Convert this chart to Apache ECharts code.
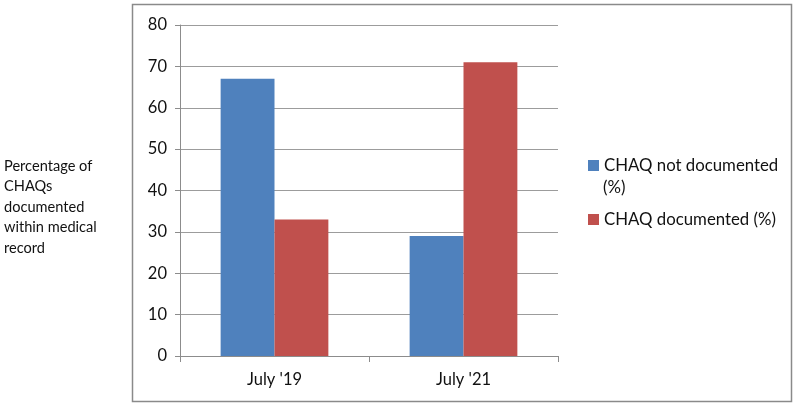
<!DOCTYPE html>
<html><head><meta charset="utf-8">
<script src="https://cdn.jsdelivr.net/npm/echarts@6/dist/echarts.min.js"></script>
<style>html,body{margin:0;padding:0;background:#fff}#c{width:800px;height:407px}</style>
</head><body><div id="c"></div>
<script>
const categories = ["July '19", "July '21"];
const notDocumented = [67, 29];
const documented = [33, 71];
const seriesNames = ["CHAQ not documented (%)", "CHAQ documented (%)"];
const yTicks = [0, 80, 10];
const yTitle = "Percentage of\nCHAQs\ndocumented\nwithin medical\nrecord";

const font = "Lato, 'Open Sans', sans-serif";
const chart = echarts.init(document.getElementById('c'));
const legendText = {fontSize: 16.8, color: '#111', fontFamily: font};
chart.setOption({
  animation: false,
  textStyle: {fontFamily: font},
  grid: {left: 180, right: 242, top: 25, bottom: 51},
  graphic: [
    {type: 'rect', shape: {x: 132.5, y: 4.5, width: 659, height: 397}, style: {fill: 'none', stroke: '#8a8a8a', lineWidth: 1.5}, z: -1},
    {type: 'text', left: 4, top: 156, style: {text: yTitle, font: '14.6px ' + font, fill: '#111', lineHeight: 20.5}},
    {type: 'text', left: 603, top: 179, style: {text: '(%)', font: '16.8px ' + font, fill: '#111'}}
  ],
  legend: [
    {orient: 'vertical', left: 588, top: 157, padding: 0, itemWidth: 11, itemHeight: 11, icon: 'rect',
     textStyle: legendText, data: [seriesNames[0]], formatter: () => 'CHAQ not documented'},
    {orient: 'vertical', left: 588, top: 211, padding: 0, itemWidth: 11, itemHeight: 11, icon: 'rect',
     textStyle: legendText, data: [seriesNames[1]]}
  ],
  xAxis: {
    type: 'category', data: categories,
    axisLine: {lineStyle: {color: '#8c8c8c'}},
    axisTick: {show: true, length: 6, lineStyle: {color: '#8c8c8c'}},
    axisLabel: {fontSize: 16.5, color: '#111', margin: 15, fontFamily: font}
  },
  yAxis: {
    type: 'value', min: yTicks[0], max: yTicks[1], interval: yTicks[2],
    axisLine: {show: true, lineStyle: {color: '#8c8c8c'}},
    axisTick: {show: true, length: 5, lineStyle: {color: '#8c8c8c'}},
    axisLabel: {fontSize: 16.5, color: '#111', margin: 13, fontFamily: font},
    splitLine: {lineStyle: {color: '#9c9c9c'}}
  },
  series: [
    {name: seriesNames[0], type: 'bar', data: notDocumented, itemStyle: {color: '#4f81bd'}, barGap: '0%', barCategoryGap: '43%'},
    {name: seriesNames[1], type: 'bar', data: documented, itemStyle: {color: '#c0504d'}, barGap: '0%', barCategoryGap: '43%'}
  ]
});
</script></body></html>
